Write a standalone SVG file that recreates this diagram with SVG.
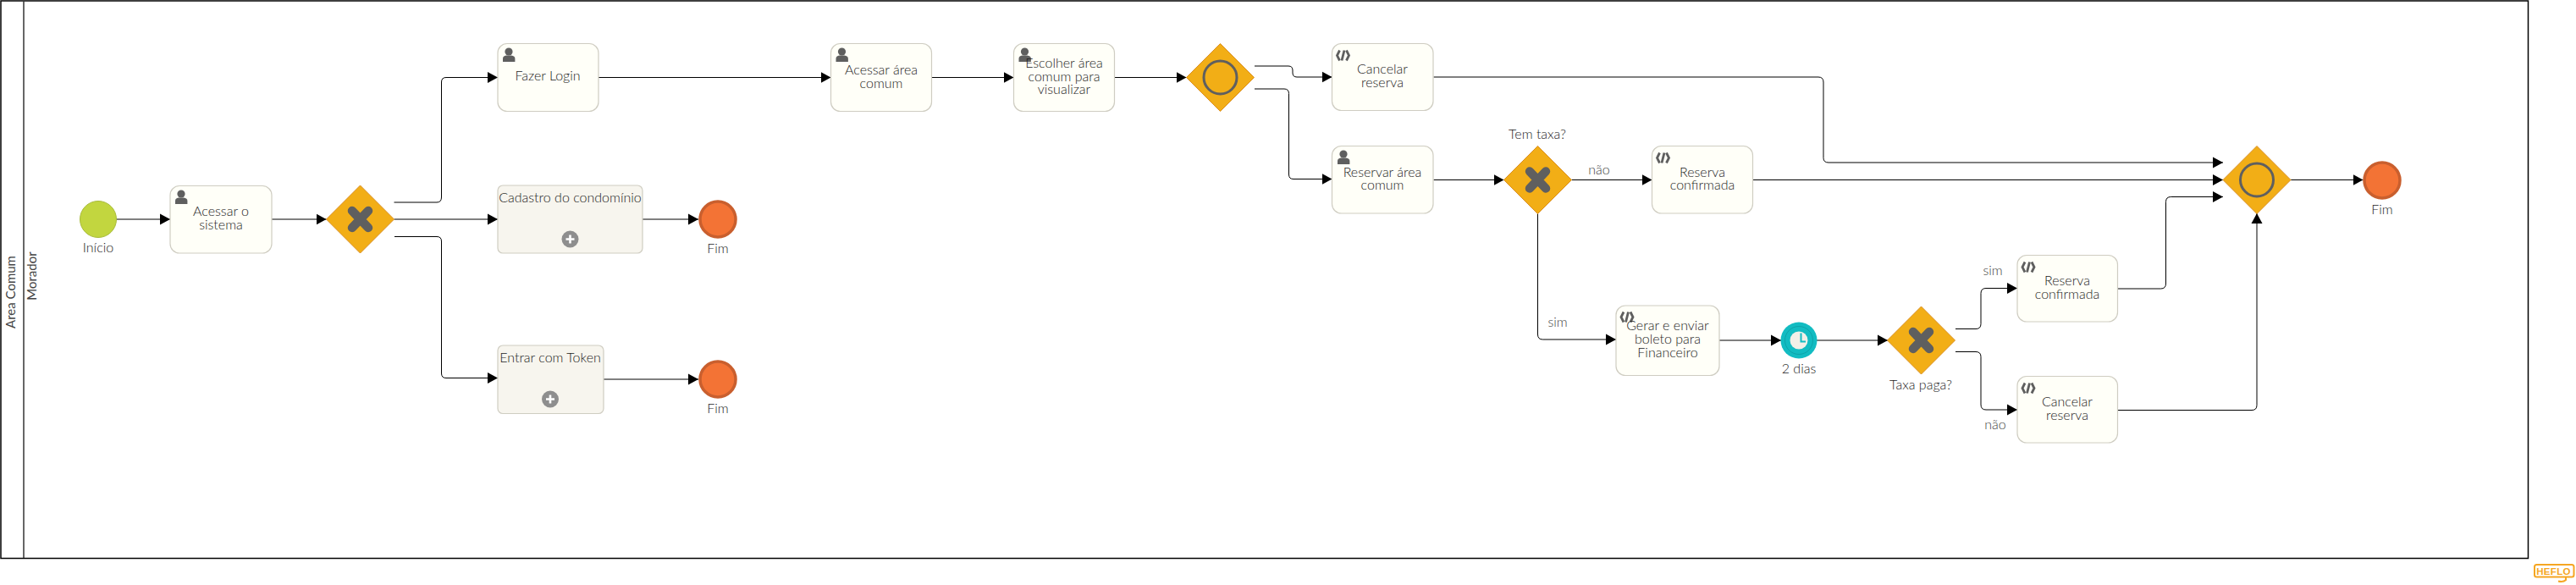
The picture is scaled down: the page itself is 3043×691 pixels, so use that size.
<svg xmlns="http://www.w3.org/2000/svg" width="3043" height="691" viewBox="0 0 3043 691">
<style>
text{font-family:"Lato","Liberation Sans",sans-serif;font-size:16px;font-weight:300;fill:#1c1c1c;text-anchor:middle}
.lab{fill:#444}
.lane{font-size:15px;font-weight:400;fill:#444}
.task{fill:#fffff8;stroke:#cfcdc2;stroke-width:1.200}
.sub{fill:#f7f5ee;stroke:#cfcdc2;stroke-width:1.200}
.gw{fill:#f2ae16;stroke:#d98d1f;stroke-width:1}
.x{fill:none;stroke:#5f5f5f;stroke-width:10.500;stroke-linecap:round}
.ring{fill:none;stroke:#5f5f5f;stroke-width:3}
.end{fill:#f37335;stroke:#c95f2e;stroke-width:3.500}
.conn path{fill:none;stroke:#000;stroke-width:1;marker-end:url(#arrow)}
</style>
<defs>
<marker id="arrow" markerUnits="userSpaceOnUse" markerWidth="12" markerHeight="14" refX="12" refY="7" orient="auto">
<path d="M0 0.500L12 7L0 13.500Z" fill="#000"/>
</marker>
<g id="user"><circle cx="7" cy="5" r="4.600" fill="#5f5f5f"/><path d="M0 17V13.500Q0 10 4 9.600H10Q14.400 10 14.400 13.500V17Z" fill="#5f5f5f"/></g>
<g id="script" fill="none" stroke="#5f5f5f" stroke-width="2.800"><path d="M4.500 0.500L1.500 6.500L4.500 12.500"/><path d="M10 0.500L7 12.500"/><path d="M12.500 0.500L15.500 6.500L12.500 12.500"/></g>
<g id="plus"><circle r="10" fill="#8e8e8e"/><path d="M0 -5V5M-5 0H5" stroke="#fff" stroke-width="2.600"/></g>
<g id="xgw"><path class="gw" d="M0 -40L40 0L0 40L-40 0Z"/><path class="x" d="M-9.500 -10L9.500 10M9.500 -10L-9.500 10"/></g>
<g id="ogw"><path class="gw" d="M0 -40L40 0L0 40L-40 0Z"/><circle class="ring" r="19.500"/></g>
</defs>

<g id="pool">
<rect x="1" y="1" width="2985.500" height="658.500" fill="#fff" stroke="#000" stroke-width="1.500"/>
<path d="M28 1V659" stroke="#333" stroke-width="1.500" fill="none"/>
<text class="lane" transform="translate(18 345) rotate(-90)">Area Comum</text>
<text class="lane" transform="translate(43 326) rotate(-90)">Morador</text>
</g>

<g id="connectors" class="conn">
<path d="M138 259H201"/>
<path d="M321 259H385.500"/>
<path d="M465.500 239H516Q521.500 239 521.500 233V97Q521.500 91.500 527 91.500H588"/>
<path d="M465.500 259H588"/>
<path d="M466 279.500H516Q521.500 279.500 521.500 285V441Q521.500 446.500 527 446.500H588"/>
<path d="M759 259H825"/>
<path d="M713 448H825"/>
<path d="M707 91.500H981.500"/>
<path d="M1100.500 91.500H1197.500"/>
<path d="M1316.500 91.500H1401.500"/>
<path d="M1482 78H1522Q1527 78 1527 83V86Q1527 91 1532 91H1573.500"/>
<path d="M1482 105H1517Q1522.500 105 1522.500 110.500V206Q1522.500 211.500 1528 211.500H1573.500"/>
<path d="M1693.500 91H2148Q2154 91 2154 97V186.500Q2154 192 2160 192H2626"/>
<path d="M1693.500 212.500H1776.500"/>
<path d="M1856.500 212.500H1951.500"/>
<path d="M2071 212.500H2626"/>
<path d="M1816.500 252V395Q1816.500 401 1822.500 401H1909"/>
<path d="M2031 402H2104"/>
<path d="M2146 402H2230"/>
<path d="M2310 388.500H2334Q2340 388.500 2340 382.500V346.500Q2340 340.500 2346 340.500H2383"/>
<path d="M2310 415.500H2334Q2340 415.500 2340 421.500V478Q2340 484 2346 484H2383"/>
<path d="M2501.500 341H2552.500Q2558.500 341 2558.500 335V238.500Q2558.500 232.500 2564.500 232.500H2626"/>
<path d="M2501.500 484.500H2660Q2666 484.500 2666 478.500V252"/>
<path d="M2706 212.500H2791.500"/>
</g>

<g id="start"><circle cx="116" cy="259" r="21.500" fill="#c2d63f" stroke="#a8bb3a"/><text x="116" y="297.500">Início</text></g>

<g id="task-acessar-sistema"><rect class="task" x="201" y="219.500" width="120" height="79.500" rx="11"/><use href="#user" x="207" y="224"/><text x="261" y="255">Acessar o</text><text x="261" y="271">sistema</text></g>
<g id="gateway-1"><use href="#xgw" x="425.500" y="259"/></g>
<g id="task-login"><rect class="task" x="588" y="51.500" width="119" height="80" rx="11"/><use href="#user" x="594" y="56"/><text x="647" y="95">Fazer Login</text></g>
<g id="sub-cadastro"><rect class="sub" x="588" y="219" width="171" height="80" rx="6"/><text x="673.500" y="238.500">Cadastro do condomínio</text><use href="#plus" x="673.500" y="282.500"/></g>
<g id="sub-token"><rect class="sub" x="588" y="408" width="125" height="80.500" rx="6"/><text x="650" y="427.500">Entrar com Token</text><use href="#plus" x="650" y="471.500"/></g>
<g id="end-1"><circle class="end" cx="848" cy="259" r="21"/><text x="848" y="298.500">Fim</text></g>
<g id="end-2"><circle class="end" cx="848" cy="448" r="21"/><text x="848" y="488">Fim</text></g>

<g id="task-acessar-area"><rect class="task" x="981.500" y="51.500" width="119" height="80" rx="11"/><use href="#user" x="987.500" y="56"/><text x="1041" y="88">Acessar área</text><text x="1041" y="103.500">comum</text></g>
<g id="task-escolher"><rect class="task" x="1197.500" y="51.500" width="119" height="80" rx="11"/><use href="#user" x="1203.500" y="56"/><text x="1257" y="80">Escolher área</text><text x="1257" y="95.500">comum para</text><text x="1257" y="111">visualizar</text></g>
<g id="gateway-2"><use href="#ogw" x="1441.500" y="91.500"/></g>
<g id="task-cancelar-1"><rect class="task" x="1573.500" y="51.500" width="119.500" height="79" rx="11"/><use href="#script" x="1578" y="59"/><text x="1633" y="87">Cancelar</text><text x="1633" y="103">reserva</text></g>
<g id="task-reservar"><rect class="task" x="1573.500" y="172.500" width="119.500" height="79.500" rx="11"/><use href="#user" x="1580" y="177"/><text x="1633" y="209">Reservar área</text><text x="1633" y="224">comum</text></g>
<g id="gateway-3"><use href="#xgw" x="1816.500" y="212.500"/><text x="1816" y="164">Tem taxa?</text></g>
<g id="task-confirmada-1"><rect class="task" x="1951.500" y="172.500" width="119" height="79.500" rx="11"/><use href="#script" x="1956" y="180"/><text x="2011" y="208.500">Reserva</text><text x="2011" y="224">confirmada</text></g>
<g id="task-boleto"><rect class="task" x="1909" y="361" width="122" height="82.500" rx="11"/><use href="#script" x="1913.500" y="368"/><text x="1970" y="390">Gerar e enviar</text><text x="1970" y="406">boleto para</text><text x="1970" y="421.500">Financeiro</text></g>
<g id="timer"><circle cx="2125" cy="402" r="21.500" fill="#12bcc2"/><circle cx="2125" cy="402" r="16.500" fill="none" stroke="#0ea3a9"/><circle cx="2125" cy="402" r="10.500" fill="#f2f0e8"/><path d="M2127.500 393.500V403.500H2133" fill="none" stroke="#12bcc2" stroke-width="2"/><text x="2125" y="441">2 dias</text></g>
<g id="gateway-4"><use href="#xgw" x="2269.500" y="402"/><text x="2269" y="460">Taxa paga?</text></g>
<g id="task-confirmada-2"><rect class="task" x="2383" y="301.500" width="118.500" height="78.500" rx="11"/><use href="#script" x="2387.500" y="309"/><text x="2442" y="337">Reserva</text><text x="2442" y="353">confirmada</text></g>
<g id="task-cancelar-2"><rect class="task" x="2383" y="444.500" width="118.500" height="78.500" rx="11"/><use href="#script" x="2387.500" y="452"/><text x="2442" y="480">Cancelar</text><text x="2442" y="496">reserva</text></g>
<g id="gateway-5"><use href="#ogw" x="2666" y="212.500"/></g>
<g id="end-3"><circle class="end" cx="2814" cy="213" r="21"/><text x="2814" y="252.500">Fim</text></g>

<g id="flow-labels">
<text class="lab" x="1889" y="206">não</text>
<text class="lab" x="1840" y="386">sim</text>
<text class="lab" x="2354" y="325">sim</text>
<text class="lab" x="2357" y="507">não</text>
</g>

<g id="logo">
<rect x="2994" y="667" width="46.500" height="14.500" rx="2.500" fill="none" stroke="#f5a623" stroke-width="2"/>
<path d="M3031 682V685Q3028 688 3022 686.500" fill="none" stroke="#f5a623" stroke-width="2"/>
<text x="3016.500" y="678.500" style="font-size:11.500px;font-weight:700;fill:#f5a623;letter-spacing:.3px;font-family:'Liberation Sans',sans-serif">HEFLO</text>
</g>
</svg>
